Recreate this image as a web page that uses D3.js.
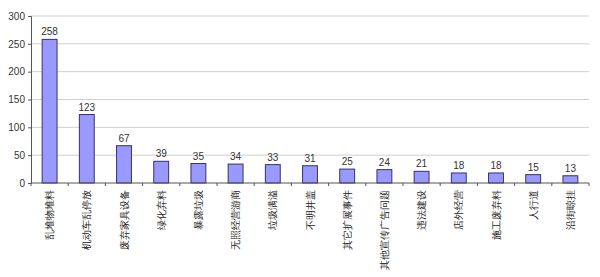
<!DOCTYPE html>
<html>
<head>
<meta charset="utf-8">
<script src="https://cdn.jsdelivr.net/npm/d3@7"></script>
<style>
  body { margin: 0; background: #fff; }
  text { font-family: Arial, "Liberation Sans", sans-serif; }
</style>
</head>
<body>
<svg id="chart" width="600" height="277"></svg>
<script>
const width = 600, height = 277;

const categories = ["乱堆物堆料", "机动车乱停放", "废弃家具设备", "绿化弃料", "暴露垃圾",
  "无照经营游商", "垃圾满溢", "不明井盖", "其它扩展事件", "其他宣传广告问题",
  "违法建设", "店外经营", "施工废弃料", "人行道", "沿街晾挂"];
const values = [258, 123, 67, 39, 35, 34, 33, 31, 25, 24, 21, 18, 18, 15, 13];
const yTicks = [0, 50, 100, 150, 200, 250, 300];

const margin = { left: 31, right: 11, top: 16, bottom: 94 };

const svg = d3.select("#chart");

const x = d3.scaleBand()
  .domain(categories)
  .range([margin.left, width - margin.right])
  .paddingInner(0.6)
  .paddingOuter(0.3);

const y = d3.scaleLinear()
  .domain([0, 300])
  .range([height - margin.bottom, margin.top]);

// grid lines
svg.append("g")
  .selectAll("line")
  .data(yTicks.filter(d => d > 0))
  .enter()
  .append("line")
  .attr("x1", margin.left)
  .attr("x2", width - margin.right)
  .attr("y1", d => y(d))
  .attr("y2", d => y(d))
  .attr("stroke", "#cfcfcf")
  .attr("stroke-width", 1);

// y axis
const yAxis = svg.append("g")
  .attr("transform", `translate(${margin.left},0)`)
  .call(d3.axisLeft(y).tickValues(yTicks).tickSize(3).tickPadding(3));
yAxis.select(".domain").attr("stroke", "#555");
yAxis.selectAll(".tick line").attr("stroke", "#555");
yAxis.selectAll("text").attr("font-size", 10).attr("fill", "#333");

// bars
svg.append("g")
  .selectAll("rect")
  .data(values)
  .enter()
  .append("rect")
  .attr("x", (d, i) => x(categories[i]))
  .attr("y", d => y(d))
  .attr("width", x.bandwidth())
  .attr("height", d => y(0) - y(d))
  .attr("fill", "#9999ff")
  .attr("stroke", "#333366")
  .attr("stroke-width", 1);

// value labels
svg.append("g")
  .selectAll("text")
  .data(values)
  .enter()
  .append("text")
  .attr("x", (d, i) => x(categories[i]) + x.bandwidth() / 2)
  .attr("y", d => y(d) - 4)
  .attr("text-anchor", "middle")
  .attr("font-size", 10)
  .attr("fill", "#333")
  .text(d => d);

// x axis line + ticks at band boundaries
const x0 = y(0);
svg.append("line")
  .attr("x1", margin.left).attr("x2", width - margin.right)
  .attr("y1", x0).attr("y2", x0)
  .attr("stroke", "#555");

const step = x.step();
svg.append("g")
  .selectAll("line")
  .data(d3.range(categories.length + 1))
  .enter()
  .append("line")
  .attr("x1", i => margin.left + i * step)
  .attr("x2", i => margin.left + i * step)
  .attr("y1", x0)
  .attr("y2", x0 + 3)
  .attr("stroke", "#555");

// category labels, rotated
svg.append("g")
  .selectAll("text")
  .data(categories)
  .enter()
  .append("text")
  .attr("transform", d => `translate(${x(d) + x.bandwidth() / 2},${x0 + 7}) rotate(-90)`)
  .attr("text-anchor", "end")
  .attr("dominant-baseline", "central")
  .attr("font-family", "'Noto Sans CJK SC', sans-serif")
  .attr("font-size", 10)
  .attr("fill", "#222")
  .text(d => d);
</script>
</body>
</html>
